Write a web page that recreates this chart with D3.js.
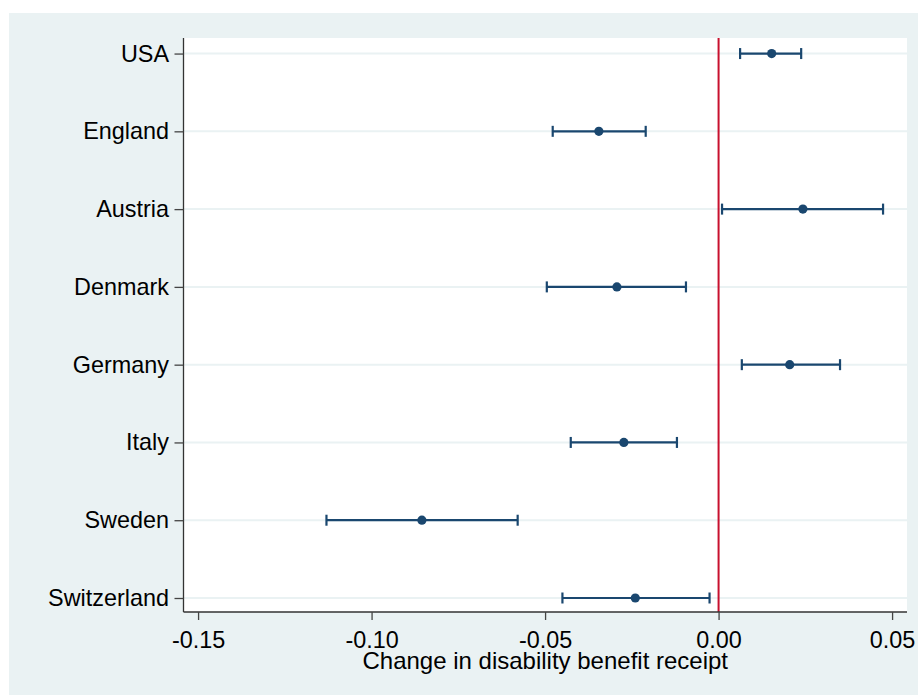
<!DOCTYPE html>
<html>
<head>
<meta charset="utf-8">
<script src="https://cdn.jsdelivr.net/npm/d3@7"></script>
<style>
  body { margin: 0; background: #fff; }
  text { font-family: Arial, "Liberation Sans", sans-serif; fill: #000; }
</style>
</head>
<body>
<svg id="chart"></svg>
<script>
// data
const countries = ["USA", "England", "Austria", "Denmark", "Germany", "Italy", "Sweden", "Switzerland"];
const estimates = [0.0153, -0.0345, 0.0243, -0.0293, 0.0205, -0.0273, -0.0855, -0.0240];
const lower = [0.0062, -0.0478, 0.0010, -0.0495, 0.0067, -0.0426, -0.1130, -0.0450];
const upper = [0.0238, -0.0210, 0.0474, -0.0094, 0.0350, -0.0120, -0.0579, -0.0026];
const xTicks = [-0.15, -0.10, -0.05, 0.00, 0.05];
const xTitle = "Change in disability benefit receipt";

const width = 918;
const height = 698;
const plot = { left: 183.5, right: 907, top: 38, bottom: 612 };

const svg = d3.select('svg#chart').attr('width', width).attr('height', height);

// outer background
svg.append('rect')
    .attr('x', 9).attr('y', 13)
    .attr('width', width - 9).attr('height', 682)
    .attr('fill', '#eaf2f3');

// plot region
svg.append('rect')
    .attr('x', plot.left).attr('y', plot.top)
    .attr('width', plot.right - plot.left).attr('height', plot.bottom - plot.top)
    .attr('fill', '#fff');

var x = d3.scaleLinear()
    .domain([-0.1542, 0.0543])
    .range([plot.left, plot.right]);

var y = d3.scaleLinear()
    .domain([0.8, 8.18])
    .range([plot.top, plot.bottom]);

var rows = countries.map((c, i) => ({ name: c, pos: i + 1, est: estimates[i], lo: lower[i], hi: upper[i] }));

// grid lines
svg.append('g').selectAll('line').data(rows).enter().append('line')
    .attr('x1', plot.left).attr('x2', plot.right)
    .attr('y1', d => y(d.pos)).attr('y2', d => y(d.pos))
    .attr('stroke', '#eaf2f3').attr('stroke-width', 2);

// reference line at zero
svg.append('line')
    .attr('x1', x(0)).attr('x2', x(0))
    .attr('y1', plot.top).attr('y2', plot.bottom)
    .attr('stroke', '#c8102e').attr('stroke-width', 2);

// axes (hyphen minus like the original, not unicode minus)
var fmt = d => d3.format('.2f')(d).replace('\u2212', '-');

var xAxis = svg.append('g')
    .attr('transform', 'translate(0,' + plot.bottom + ')')
    .call(d3.axisBottom(x).tickValues(xTicks).tickFormat(fmt).tickSize(8).tickSizeOuter(0).tickPadding(11.3));

var yAxis = svg.append('g')
    .attr('transform', 'translate(' + plot.left + ',0)')
    .call(d3.axisLeft(y).tickValues(rows.map(d => d.pos)).tickFormat((d, i) => countries[i]).tickSize(9).tickSizeOuter(0).tickPadding(5.5));

[xAxis, yAxis].forEach(a => {
    a.select('.domain').attr('stroke', '#333').attr('stroke-width', 1.3)
    a.selectAll('.tick line').attr('stroke', '#444').attr('stroke-width', 1.3)
    a.selectAll('text').style('font-size', '23.4px').style('font-family', 'Arial, "Liberation Sans", sans-serif').attr('fill', '#000')
});
// keep axis domain spanning the full plot region
xAxis.select('.domain').attr('d', 'M' + plot.left + ',0H' + plot.right);
yAxis.select('.domain').attr('d', 'M0,' + plot.top + 'V' + plot.bottom);

svg.append('text')
    .attr('x', (plot.left + plot.right) / 2)
    .attr('y', 669)
    .attr('text-anchor', 'middle')
    .style('font-size', '24px')
    .text(xTitle);

// error bars
var bars = svg.append('g').attr('stroke', '#1a476f').attr('stroke-width', 2.2).attr('fill', 'none');
bars.selectAll('.ci').data(rows).enter().append('line')
    .attr('x1', d => x(d.lo)).attr('x2', d => x(d.hi))
    .attr('y1', d => y(d.pos)).attr('y2', d => y(d.pos));
bars.selectAll('.caplo').data(rows).enter().append('line')
    .attr('x1', d => x(d.lo)).attr('x2', d => x(d.lo))
    .attr('y1', d => y(d.pos) - 5.5).attr('y2', d => y(d.pos) + 5.5);
bars.selectAll('.caphi').data(rows).enter().append('line')
    .attr('x1', d => x(d.hi)).attr('x2', d => x(d.hi))
    .attr('y1', d => y(d.pos) - 5.5).attr('y2', d => y(d.pos) + 5.5);

svg.append('g').selectAll('circle').data(rows).enter().append('circle')
    .attr('cx', d => x(d.est))
    .attr('cy', d => y(d.pos))
    .attr('r', 4.6)
    .attr('fill', '#1a476f');
</script>
</body>
</html>
